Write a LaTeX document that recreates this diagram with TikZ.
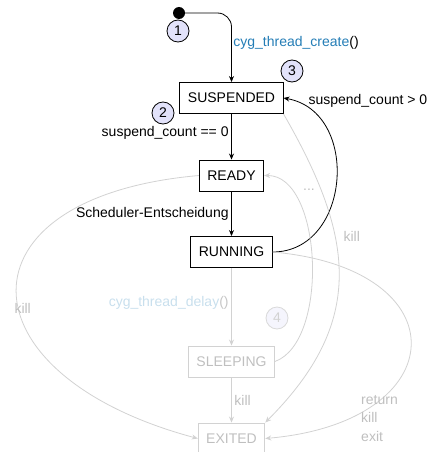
\documentclass[tikz,border=0pt]{standalone}
\usepackage{fontspec}
\setmainfont{Liberation Sans}
\usetikzlibrary{arrows.meta}
\definecolor{fnblue}{RGB}{36,125,182}
\definecolor{numfill}{RGB}{226,226,250}

\begin{document}
\begin{tikzpicture}[x=1pt, y=-1pt, font=\fontsize{14}{17}\selectfont,
  statebox/.style={draw, line width=0.9pt, inner xsep=8pt, minimum height=31pt},
  faded/.style={draw=gray!35, text=gray!50},
  numdot/.style={circle, draw, fill=numfill, line width=0.8pt, minimum size=22pt, inner sep=0pt},
  active/.style={-{Stealth[length=6pt,width=5pt]}, line width=0.8pt},
  inactive/.style={-{Stealth[length=6pt,width=5pt]}, line width=0.8pt, draw=gray!35},
  note/.style={text=gray!50}]
  \useasboundingbox (0,0) rectangle (429,452);
  % states
  \node[statebox] (susp) at (231.5,98) {SUSPENDED};
  \node[statebox] (ready) at (231.5,175.5) {READY};
  \node[statebox] (run) at (231.5,252) {RUNNING};
  \node[statebox, faded] (sleep) at (231.5,361.5) {SLEEPING};
  \node[statebox, faded] (exit) at (231.5,438.5) {EXITED};
  % step numbers
  \node[numdot] (n1) at (178,31) {1};
  \node[numdot] (n2) at (163,113) {2};
  \node[numdot] (n3) at (292,71) {3};
  \node[numdot, draw=gray!30, fill=numfill!35, text=gray!35] (n4) at (277,318) {4};
  \node[circle, fill=black, minimum size=12pt, inner sep=0pt] (start) at (179,13) {};
  % active transitions
  \draw[active, rounded corners=14pt] (start) -| node[pos=0.716, right, inner sep=1.5pt] (lcreate)
    {\textcolor{fnblue}{cyg\_thread\_create}()} (susp);
  \draw[active] (susp) -- node[pos=0.42, left, inner sep=2.5pt] (lzero) {suspend\_count == 0} (ready);
  \draw[active] (ready) -- node[midway, left, inner sep=2.5pt] (lsched) {Scheduler-Entscheidung} (run);
  \draw[active] (run.east) to[out=0, in=-10, looseness=1.3] (susp.east);
  \node[anchor=west] (lcount) at (305,101) {suspend\_count > 0};
  % inactive transitions
  \draw[inactive] (run) -- node[pos=0.45, left, inner sep=2.5pt, text=fnblue!25] (ldelay)
    {cyg\_thread\_delay\textcolor{gray!45}{()}} (sleep);
  \draw[inactive] (sleep) -- node[midway, right, inner sep=2.5pt, note] (lkill1) {kill} (exit);
  \draw[inactive] (sleep.east) to[out=20, in=0, looseness=0.8] (ready.east);
  \node[note, inner sep=1pt] (ldots) at (309,190) {...};
  \draw[inactive] (susp.south east) to[out=-60, in=45, looseness=1.18] (exit.north east);
  \node[note, anchor=west] (lkill2) at (340,236) {kill};
  \draw[inactive] (ready.west) to[out=185, in=165, looseness=2.4] (exit.west);
  \node[note, anchor=west] (lkill3) at (11,308) {kill};
  \draw[inactive] (run.east) to[out=-5, in=5, looseness=2.6] (exit.east);
  \node[note, align=left, font=\fontsize{14}{18.5}\selectfont] (lend) at (379.5,418.5) {return\\kill\\exit};
\end{tikzpicture}
\end{document}
